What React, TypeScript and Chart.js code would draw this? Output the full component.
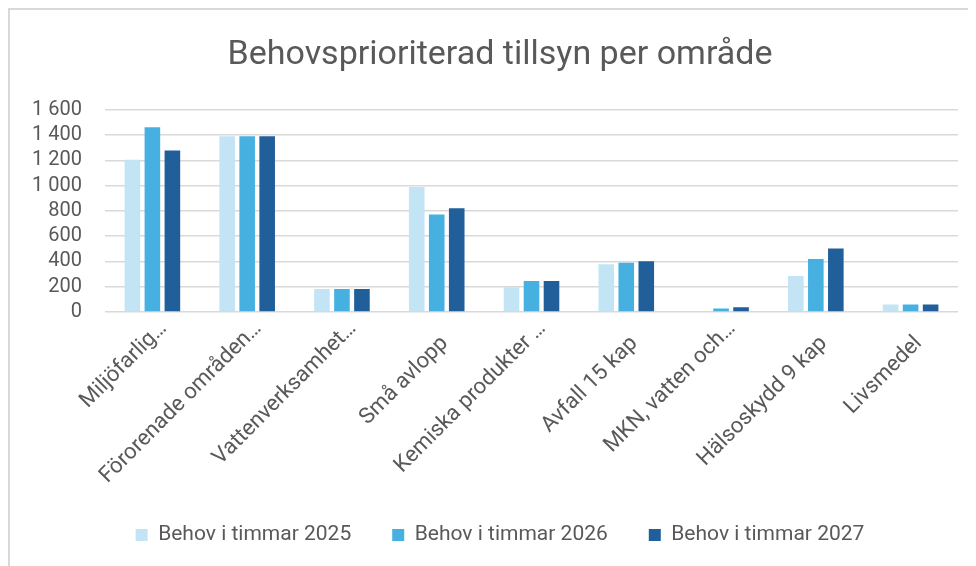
import { useEffect, useRef } from "react";
import { Chart, registerables } from "chart.js";

Chart.register(...registerables);

const chartTitle = "Behovsprioriterad tillsyn per område";
const categories = [
  "Miljöfarlig…",
  "Förorenade områden…",
  "Vattenverksamhet…",
  "Små avlopp",
  "Kemiska produkter …",
  "Avfall 15 kap",
  "MKN, vatten och…",
  "Hälsoskydd 9 kap",
  "Livsmedel",
];
const seriesNames = ["Behov i timmar 2025", "Behov i timmar 2026", "Behov i timmar 2027"];
const values2025 = [1205, 1390, 182, 990, 195, 378, 0, 285, 60];
const values2026 = [1462, 1390, 182, 772, 245, 390, 28, 420, 60];
const values2027 = [1278, 1390, 182, 820, 245, 402, 38, 503, 60];
const seriesColors = ["#C2E4F5", "#46B1E1", "#215F9A"];
const yTickValues = [0, 200, 400, 600, 800, 1000, 1200, 1400, 1600];
const yTickLabels = ["0", "200", "400", "600", "800", "1\u00a0000", "1\u00a0200", "1\u00a0400", "1\u00a0600"];

const TEXT = "#595959";
const FONT = "Roboto";

const labelPlugin = {
  id: "labelPlugin",
  afterDraw(chart: any) {
    const ctx = chart.ctx as CanvasRenderingContext2D;
    const xs = chart.scales.x;
    const ys = chart.scales.y;
    // category labels, rotated 45°
    categories.forEach((lab, i) => {
      const trunc = lab.endsWith("…");
      const x = xs.getPixelForTick(i) + (trunc ? 15 : 12);
      const y = xs.top + (trunc ? 17 : 32);
      ctx.save();
      ctx.font = `22px ${FONT}`;
      ctx.fillStyle = TEXT;
      ctx.textAlign = "right";
      ctx.textBaseline = "alphabetic";
      ctx.translate(x, y);
      ctx.rotate(-Math.PI / 4);
      ctx.fillText(lab, 0, 0);
      ctx.restore();
    });
    // value axis labels
    ctx.save();
    ctx.font = `20px ${FONT}`;
    ctx.fillStyle = TEXT;
    ctx.textAlign = "right";
    ctx.textBaseline = "middle";
    yTickValues.forEach((v, i) => {
      ctx.fillText(yTickLabels[i], ys.right - 23, ys.getPixelForValue(v));
    });
    ctx.restore();
  },
};

export default function App() {
  const ref = useRef<HTMLCanvasElement | null>(null);

  useEffect(() => {
    if (!ref.current) return;
    Chart.defaults.font.family = FONT;
    const chart = new Chart(ref.current, {
      type: "bar",
      data: {
        labels: categories,
        datasets: [values2025, values2026, values2027].map((d, i) => ({
          label: seriesNames[i],
          data: d,
          backgroundColor: seriesColors[i],
          borderWidth: 0,
          categoryPercentage: 0.633,
          barPercentage: 0.78,
        })),
      },
      options: {
        responsive: false,
        animation: false,
        layout: { padding: { left: 32, right: 10, top: 0, bottom: 10.5 } },
        plugins: {
          title: {
            display: true,
            text: chartTitle,
            color: TEXT,
            font: { size: 34, weight: "normal", family: FONT },
            padding: { top: 25, bottom: 34 },
          },
          legend: {
            position: "bottom",
            labels: {
              boxWidth: 12,
              boxHeight: 12,
              padding: 41,
              color: TEXT,
              font: { size: 21, family: FONT },
            },
          },
          tooltip: { enabled: false },
        },
        scales: {
          x: {
            grid: { display: false },
            border: { display: false },
            ticks: { display: false },
            afterFit(scale: any) {
              scale.height = 171.5;
            },
          },
          y: {
            min: yTickValues[0],
            max: yTickValues[yTickValues.length - 1],
            grid: { color: "#D9D9D9", lineWidth: 1.5, drawTicks: false },
            border: { display: false },
            ticks: { display: false, stepSize: 200, autoSkip: false },
            afterFit(scale: any) {
              scale.width = 63;
            },
          },
        },
      },
      plugins: [labelPlugin],
    });
    return () => chart.destroy();
  }, []);

  return (
    <div
      style={{
        width: 960,
        height: 558,
        boxSizing: "border-box",
        borderTop: "2px solid #D9D9D9",
        borderLeft: "2px solid #D9D9D9",
        background: "#fff",
      }}
    >
      <canvas ref={ref} width={958} height={556} style={{ display: "block" }} />
    </div>
  );
}
